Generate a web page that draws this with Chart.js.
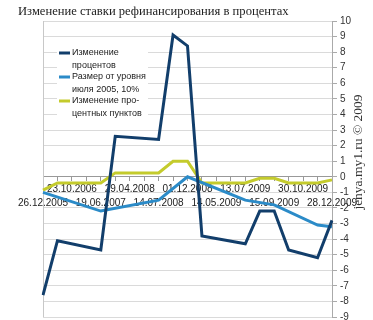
<!DOCTYPE html>
<html>
<head>
<meta charset="utf-8">
<script src="https://cdn.jsdelivr.net/npm/chart.js@4"></script>
<style>
  html, body { margin: 0; padding: 0; background: #fff; }
  #wrap { width: 373px; height: 320px; }
</style>
</head>
<body>
<div id="wrap"><canvas id="chart"></canvas></div>
<script>
// даты на оси (подписана каждая вторая категория)
const dates = ['26.12.2005', '', '23.10.2006', '', '19.06.2007', '', '29.04.2008', '', '14.07.2008', '',
    '01.12.2008', '', '14.05.2009', '', '13.07.2009', '', '15.09.2009', '', '30.10.2009', '', '28.12.2009'];

// null - в этой категории нет излома линии
const rateChange = [-7.6, -4.1, null, null, -4.7, 2.6, null, null, 2.4, 9.1,
    8.4, -3.8, null, null, -4.3, -2.2, -2.2, -4.7, null, -5.2, -2.8];
const levelFromJuly2005 = [-1.0, null, null, null, -2.2, null, null, null, -1.5, null,
    0.0, null, null, null, -1.5, null, -1.8, null, null, -3.1, -3.2];
const pointsChange = [-0.85, -0.4, null, null, -0.4, 0.25, null, null, 0.25, 1.0,
    1.0, -0.4, null, null, -0.4, -0.1, -0.1, -0.4, null, -0.4, -0.2];

const seriesNames = [['Изменение', 'процентов'], ['Размер от уровня', 'июля 2005, 10%'], ['Изменение про-', 'центных пунктов']];
const colors = ['#123e6b', '#2b8bc8', '#c4cb2c'];

const titleText = 'Изменение ставки рефинансирования в процентах';
const watermark = 'jenya.my1.ru © 2009';

const extras = {
    id: 'extras',
    beforeDatasetsDraw(chart) {
        const {ctx, chartArea} = chart;
        ctx.save();
        ctx.strokeStyle = '#c8c8c8';
        ctx.lineWidth = 1;
        ctx.beginPath();
        ctx.moveTo(chartArea.left + 0.5, chartArea.top);
        ctx.lineTo(chartArea.left + 0.5, chartArea.bottom);
        ctx.stroke();
        ctx.restore();
    },
    afterDraw(chart) {
        const ctx = chart.ctx;
        ctx.save();
        // заголовок
        ctx.fillStyle = '#222';
        ctx.font = '12.6px "Liberation Serif"';
        ctx.textBaseline = 'alphabetic';
        ctx.fillText(titleText, 18, 15);

        // легенда
        ctx.fillStyle = '#fff';
        ctx.fillRect(57, 44, 91, 78);
        ctx.font = '9px "Liberation Sans"';
        ctx.textBaseline = 'middle';
        chart.data.datasets.forEach((ds, i) => {
            const y = 53 + i * 24;
            ctx.strokeStyle = ds.borderColor;
            ctx.lineWidth = 3;
            ctx.beginPath();
            ctx.moveTo(59, y);
            ctx.lineTo(70, y);
            ctx.stroke();
            ctx.fillStyle = '#222';
            seriesNames[i].forEach((line, j) => ctx.fillText(line, 72, y + j * 12.5));
        });

        // подпись справа
        ctx.translate(362, 152);
        ctx.rotate(-Math.PI / 2);
        ctx.font = '13.5px "Liberation Serif"';
        ctx.textAlign = 'center';
        ctx.textBaseline = 'alphabetic';
        ctx.fillStyle = '#333';
        ctx.fillText(watermark, 0, 0);
        ctx.restore();
    }
};

const makeSet = (data, i) => ({
    label: seriesNames[i].join(' '),
    data: data,
    borderColor: colors[i],
    backgroundColor: colors[i],
    borderWidth: 3,
    pointRadius: 0,
    tension: 0,
    spanGaps: true
});

new Chart(document.getElementById('chart'), {
    type: 'line',
    data: {
        labels: dates,
        datasets: [makeSet(rateChange, 0), makeSet(levelFromJuly2005, 1), makeSet(pointsChange, 2)]
    },
    options: {
        responsive: true,
        maintainAspectRatio: false,
        animation: false,
        events: [],
        layout: {padding: {left: 43, top: 21, right: 0, bottom: 3}},
        plugins: {legend: {display: false}, tooltip: {enabled: false}, title: {display: false}},
        scales: {
            x: {
                type: 'category',
                position: {y: 0},
                offset: false,
                grid: {display: true, drawOnChartArea: false, tickLength: 4, color: '#999'},
                border: {display: true, color: '#999'},
                ticks: {
                    autoSkip: false,
                    maxRotation: 0,
                    minRotation: 0,
                    padding: 1,
                    color: '#222',
                    font: {family: '"Liberation Sans"', size: 10, lineHeight: 1.4},
                    callback: function (value, index) {
                        const label = dates[index];
                        if (!label) return '';
                        return (index / 2) % 2 === 1 ? label : ['', label];
                    }
                },
                afterFit: s => { s.paddingLeft = 0; s.paddingRight = 0; }
            },
            y: {
                position: 'right',
                min: -9,
                max: 10,
                grid: {color: '#dadada', tickLength: 5, tickColor: '#aaa'},
                border: {display: true, color: '#aaa'},
                ticks: {
                    stepSize: 1,
                    padding: 3,
                    color: '#333',
                    font: {family: '"Liberation Sans"', size: 10}
                },
                afterFit: s => { s.width = 41; s.paddingTop = 0; s.paddingBottom = 0; }
            }
        }
    },
    plugins: [extras]
});
</script>
</body>
</html>
